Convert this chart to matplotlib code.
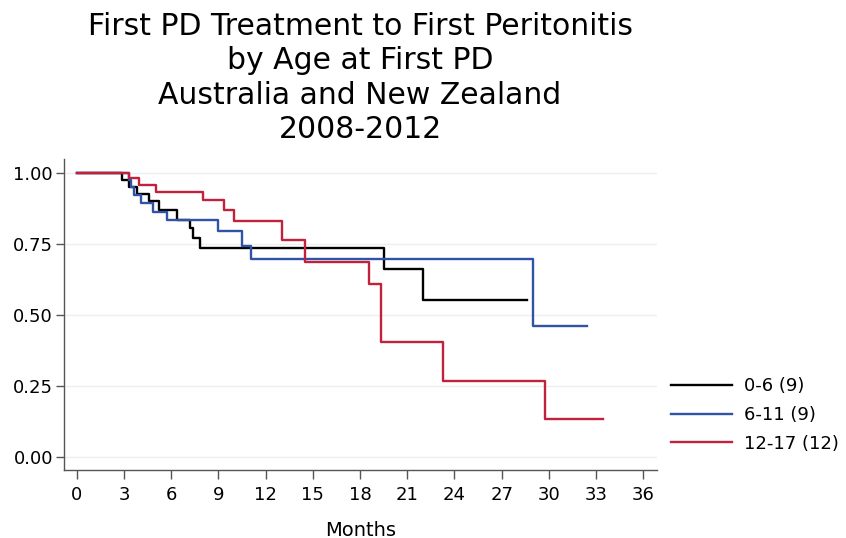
import matplotlib
matplotlib.use("Agg")
import matplotlib.pyplot as plt

# the reference text is wide, DejaVu Sans gives the closest widths
plt.rcParams['font.family'] = ['DejaVu Sans']

# Kaplan-Meier step curves
# (time in months where the curve drops, value after the drop)
t_06 = [0, 2.9, 3.35, 3.8, 4.6, 5.2, 6.35, 7.2, 7.4, 7.85, 19.55, 22.0, 28.6]
s_06 = [1.0, 0.976, 0.949, 0.925, 0.900, 0.868, 0.836, 0.805, 0.771, 0.736, 0.662, 0.554, 0.554]

t_611 = [0, 3.3, 3.45, 3.65, 4.1, 4.85, 5.75, 9.0, 10.48, 11.07, 29.0, 32.45]
s_611 = [1.0, 0.976, 0.949, 0.924, 0.894, 0.864, 0.834, 0.794, 0.744, 0.696, 0.463, 0.463]

t_1217 = [0, 3.32, 3.96, 5.02, 8.05, 9.38, 10.02, 13.02, 14.5, 18.57, 19.33, 23.25, 29.75, 33.42]
s_1217 = [1.0, 0.982, 0.958, 0.932, 0.904, 0.871, 0.831, 0.763, 0.685, 0.609, 0.405, 0.269, 0.134, 0.134]

labels = ['0-6 (9)', '6-11 (9)', '12-17 (12)']
colors = ['#000000', '#3153A5', '#C1213A']

fig = plt.figure(figsize=(8.46, 5.38), dpi=100)
ax = fig.add_axes([64 / 846, 1 - 470 / 538, (657 - 64) / 846, (470 - 159) / 538])

for t, s, lab, c in zip([t_06, t_611, t_1217], [s_06, s_611, s_1217], labels, colors):
    ax.step(t, s, where='post', color=c, lw=1.7, label=lab)

ax.set_xlim(-0.81, 36.87)
ax.set_ylim(-0.045, 1.049)
ax.set_xticks(range(0, 37, 3))
ax.set_yticks([0, 0.25, 0.5, 0.75, 1.0])
ax.set_yticklabels(['0.00', '0.25', '0.50', '0.75', '1.00'])

ax.grid(axis='y', color='#EAF0F0', lw=1.0)
ax.set_axisbelow(True)
for side in ['top', 'right']:
    ax.spines[side].set_visible(False)
for side in ['left', 'bottom']:
    ax.spines[side].set_color('#555555')
    ax.spines[side].set_linewidth(1.0)

ax.tick_params(axis='y', length=6, width=1, color='#555555', labelsize=13, pad=2)
ax.tick_params(axis='x', length=6.5, width=1, color='#555555', labelsize=13, pad=5)
ax.set_xlabel('Months', fontsize=14, labelpad=12)

fig.text(360 / 846, 1 - 78 / 538,
         'First PD Treatment to First Peritonitis\nby Age at First PD\n'
         'Australia and New Zealand\n2008-2012',
         ha='center', va='center', fontsize=21.5, linespacing=1.22)

fig.legend(loc='upper left', bbox_to_anchor=(671 / 846, 1 - 377 / 538),
           frameon=False, fontsize=13, handlelength=3.4, handletextpad=0.65,
           labelspacing=0.6, borderpad=0, borderaxespad=0)

fig.savefig('out.png', dpi=100)
